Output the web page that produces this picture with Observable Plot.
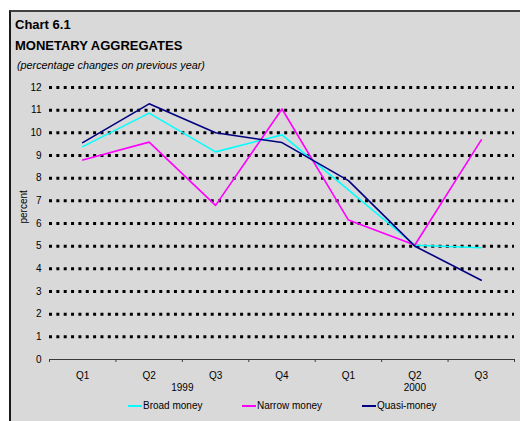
<!DOCTYPE html>
<html>
<head>
<meta charset="utf-8">
<script src="https://cdn.jsdelivr.net/npm/d3@7"></script>
<script src="https://cdn.jsdelivr.net/npm/@observablehq/plot@0.6"></script>
<style>
  html, body { margin: 0; padding: 0; background: #ffffff; }
  #wrap { position: relative; width: 520px; height: 421px; overflow: hidden; font-family: "Liberation Sans", Arial, sans-serif; }
  #panel { position: absolute; left: 9px; top: 10px; width: 520px; height: 420px; background: #d9d9d9;
           border-left: 2px solid #1a1a1a; border-top: 2px solid #404040; }
  #t1, #t2 { position: absolute; left: 15px; font-weight: bold; font-size: 13px; line-height: 15px; color: #000; white-space: nowrap; }
  #t1 { top: 17px; }
  #t2 { top: 38px; }
  #sub { position: absolute; left: 17px; top: 59px; font-style: italic; font-size: 10.8px; line-height: 13px; color: #000; white-space: nowrap; }
  #chart { position: absolute; left: 0; top: 0; }
  .leg { position: absolute; top: 400px; font-size: 10px; display: flex; align-items: center; white-space: nowrap; }
  .leg span.sw { display: inline-block; width: 14px; height: 2px; margin-right: 1px; }
</style>
</head>
<body>
<div id="wrap">
  <div id="panel"></div>
  <div id="t1">Chart 6.1</div>
  <div id="t2">MONETARY AGGREGATES</div>
  <div id="sub">(percentage changes on previous year)</div>
  <div id="chart"></div>
  <div id="legend"></div>
</div>
<script>
const quarters = ["Q1", "Q2", "Q3", "Q4", "Q1", "Q2", "Q3"];
const years = ["1999", "2000"];
const yearSpans = [[0, 3], [4, 6]];
const broadMoney  = [9.39, 10.87, 9.16, 9.91, 7.48, 5.04, 4.93];
const narrowMoney = [8.80, 9.59, 6.80, 11.05, 6.15, 5.05, 9.69];
const quasiMoney  = [9.57, 11.28, 10.00, 9.57, 7.89, 5.00, 3.50];
const yTicks = [0, 1, 2, 3, 4, 5, 6, 7, 8, 9, 10, 11, 12];
const seriesNames = ["Broad money", "Narrow money", "Quasi-money"];
const seriesColors = ["#00ffff", "#ff00ff", "#000080"];

const seriesValues = [broadMoney, narrowMoney, quasiMoney];
const rows = [];
seriesValues.forEach((vals, s) => vals.forEach((v, i) => rows.push({series: seriesNames[s], i: i + 0.5, v})));
const qRows = quarters.map((q, i) => ({q, i: i + 0.5}));
const yRows = years.map((y, k) => ({y, i: (yearSpans[k][0] + yearSpans[k][1]) / 2 + 0.5}));
const boundaries = d3.range(0, quarters.length + 1);

const plot = Plot.plot({
  width: 520,
  height: 421,
  marginLeft: 49,
  marginRight: 6,
  marginTop: 87,
  marginBottom: 62,
  style: {background: "transparent", fontFamily: "Liberation Sans, Arial, sans-serif", fontSize: "10px", color: "#000"},
  x: {type: "linear", domain: [0, quarters.length], axis: null},
  y: {type: "linear", domain: [0, 12], ticks: yTicks, tickSize: 0, tickPadding: 8, label: null, tickFormat: d => String(d)},
  color: {domain: seriesNames, range: seriesColors},
  marks: [
    Plot.ruleY(yTicks.filter(d => d > 0), {x1: 0, x2: quarters.length, stroke: "#000", strokeWidth: 3, strokeDasharray: "3,4.35"}),
    Plot.ruleY([0], {x1: 0, x2: quarters.length, stroke: "#3a3a3a", strokeWidth: 1}),
    Plot.ruleX(boundaries, {x: d => d, y1: 0, y2: 0, insetBottom: -3, stroke: "#3a3a3a", strokeWidth: 1}),
    Plot.line(rows, {x: "i", y: "v", z: "series", stroke: "series", strokeWidth: 1.6}),
    Plot.text(qRows, {x: "i", text: "q", frameAnchor: "bottom", dy: 19, fontSize: 10}),
    Plot.text(yRows, {x: "i", text: "y", frameAnchor: "bottom", dy: 31, fontSize: 10}),
    Plot.text(["percent"], {frameAnchor: "left", y: () => 6, text: d => d, rotate: -90, dx: -26, fontSize: 10})
  ]
});
document.getElementById("chart").appendChild(plot);

const legendLeft = [128, 242, 362];
const legend = document.getElementById("legend");
seriesNames.forEach((name, k) => {
  const div = document.createElement("div");
  div.className = "leg";
  div.style.left = legendLeft[k] + "px";
  div.innerHTML = `<span class="sw" style="background:${seriesColors[k]}"></span>${name}`;
  legend.appendChild(div);
});
</script>
</body>
</html>
